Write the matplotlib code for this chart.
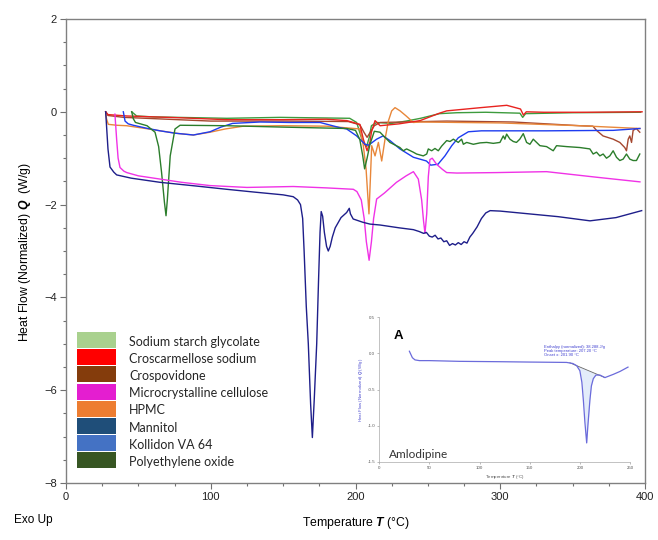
import matplotlib

matplotlib.use("Agg")
import matplotlib.pyplot as plt
import numpy as np
from matplotlib.patches import Rectangle
from matplotlib.ticker import MultipleLocator

plt.rcParams.update(
    {
        "font.family": ["Liberation Sans", "DejaVu Sans"],
        "mathtext.fontset": "custom",
        "mathtext.rm": "Liberation Sans",
        "mathtext.bfit": "Liberation Sans:italic:bold",
        "axes.linewidth": 1.0,
    }
)

# ---- main DSC traces (temperature in degC, heat flow in W/g) ----
ssg_T = [45.4, 48.8, 60, 111, 148, 196, 200.8, 203, 205, 207.7, 209.5, 211, 214.6,
         225, 235, 245, 258, 270, 290, 313.6, 315.5, 317.5, 350, 397]
ssg_Q = [0.0, -0.09, -0.11, -0.14, -0.12, -0.14, -0.23, -0.45, -0.65, -0.75, -0.55,
         -0.3, -0.23, -0.25, -0.2, -0.14, -0.04, -0.02, -0.01, -0.03, -0.12, -0.04,
         -0.02, -0.01]

ccs_T = [27.4, 29, 42, 80, 111, 150, 180, 194, 203, 205.5, 208, 210, 211, 213.5,
         217, 230, 244.6, 258, 263, 286.6, 304.5, 314, 316, 318, 330, 360, 398]
ccs_Q = [0.0, -0.06, -0.09, -0.13, -0.17, -0.17, -0.16, -0.19, -0.27, -0.6, -0.84,
         -0.65, -0.44, -0.19, -0.3, -0.26, -0.19, -0.03, 0.02, 0.09, 0.14, 0.06,
         -0.07, 0.0, -0.01, -0.01, 0.0]

crp_T = [27.4, 29, 40, 100, 150, 195, 203, 206, 208, 210, 213, 217, 263, 309, 355,
         364, 366.5, 371, 378, 382.6, 386, 387.2, 388.4, 389.5, 390.7, 391.8, 394,
         396.4]
crp_Q = [0.0, -0.08, -0.12, -0.2, -0.2, -0.21, -0.28, -0.45, -0.55, -0.45, -0.3,
         -0.23, -0.2, -0.22, -0.3, -0.31, -0.4, -0.52, -0.59, -0.66, -0.77, -0.84,
         -0.59, -0.52, -0.66, -0.4, -0.36, -0.44]

mcc_T = [33.8, 35, 36, 37.3, 40, 42, 50, 65, 80, 99.5, 125, 157, 180, 198.5, 201,
         204, 206, 207.5, 209.4, 211, 212.5, 214.6, 220, 228.3, 235, 240, 243.4,
         245.7, 247, 248, 249.2, 250.3, 251.4, 253, 256, 260, 263, 270, 297.5, 332,
         366.5, 396.5]
mcc_Q = [-0.05, -0.6, -1.0, -1.2, -1.28, -1.31, -1.38, -1.45, -1.52, -1.59, -1.63,
         -1.61, -1.64, -1.67, -1.72, -1.9, -2.3, -2.8, -3.2, -2.8, -2.3, -1.88,
         -1.75, -1.52, -1.38, -1.29, -1.45, -1.9, -2.35, -2.62, -2.2, -1.4, -1.03,
         -1.0, -1.13, -1.24, -1.31, -1.32, -1.31, -1.29, -1.41, -1.51]

hpmc_T = [27.4, 28, 29.2, 35, 41.9, 55, 65, 78, 88, 99.5, 110, 122.5, 150, 180,
          203, 205.4, 207.3, 209.3, 211.2, 213.5, 215.8, 218.1, 220.4, 222.7, 225,
          227.3, 230.8, 235, 240, 244.6, 300, 355, 396.5]
hpmc_Q = [0.0, -0.15, -0.27, -0.29, -0.3, -0.36, -0.41, -0.47, -0.5, -0.44, -0.37,
          -0.31, -0.3, -0.31, -0.37, -0.73, -1.23, -2.2, -0.73, -0.95, -0.66, -1.06,
          -0.59, -0.2, 0.02, 0.09, 0.02, -0.09, -0.23, -0.22, -0.24, -0.3, -0.36]

man_T = [27.4, 28, 29, 30.4, 33, 35, 45, 65, 90, 111, 130, 150, 157, 160, 162,
         163.5, 164.5, 166, 167.4, 169, 170.2, 171.5, 173.2, 174.5, 175.5, 176.3,
         177.3, 178.5, 180, 181.2, 182.5, 184, 186, 190, 193.9, 195.7, 196.5, 198.4,
         205, 210, 217, 230, 240, 244, 247, 249, 251, 253, 255, 257, 259, 261, 263,
         265, 267, 269, 271, 273, 275, 277, 279, 281, 284, 287, 290, 293, 300, 320,
         340, 362, 380, 397.7]
man_Q = [0.0, -0.3, -0.8, -1.19, -1.3, -1.36, -1.43, -1.52, -1.6, -1.67, -1.73,
         -1.79, -1.83, -1.9, -2.0, -2.3, -3.0, -4.2, -5.0, -6.3, -7.02, -6.2, -5.0,
         -3.6, -2.6, -2.15, -2.25, -2.6, -2.9, -3.0, -2.9, -2.7, -2.5, -2.28, -2.17,
         -2.08, -2.2, -2.31, -2.38, -2.42, -2.44, -2.5, -2.54, -2.58, -2.62, -2.6,
         -2.68, -2.7, -2.66, -2.74, -2.72, -2.8, -2.78, -2.88, -2.84, -2.87, -2.82,
         -2.86, -2.8, -2.83, -2.7, -2.62, -2.48, -2.3, -2.18, -2.13, -2.14, -2.2,
         -2.26, -2.35, -2.28, -2.13]

kol_T = [39.6, 40.8, 43, 46.5, 55, 65, 75, 88, 99.5, 107, 115, 134, 155, 175.5,
         189, 193.9, 200.8, 206.6, 209, 214.6, 219, 223.8, 230.7, 240, 249, 252,
         257, 261.8, 266.5, 271, 278, 287, 332, 378, 396.5]
kol_Q = [0.0, -0.2, -0.26, -0.29, -0.35, -0.41, -0.46, -0.5, -0.43, -0.33, -0.25,
         -0.22, -0.23, -0.23, -0.34, -0.37, -0.52, -0.7, -0.72, -0.59, -0.52, -0.62,
         -0.8, -0.98, -1.06, -1.15, -1.13, -0.95, -0.73, -0.56, -0.43, -0.41, -0.41,
         -0.4, -0.36]

peo_T = [45.4, 46.5, 48, 56, 61.5, 64, 66, 68, 69.1, 70, 72, 75.3, 78.8, 111, 150,
         194, 200, 203, 205, 206.3, 208, 210, 213, 216.9, 223.8, 230.7, 233.0, 235.3,
         239.9, 242.2, 246.8, 249.2, 250.3, 252.6, 254.9, 257.2, 259.5, 263.0, 265.3,
         267.6, 271.0, 273.3, 274.5, 276.8, 281.4, 286.0, 290.6, 295.2, 299.8, 302.1,
         303.2, 304.4, 306.7, 309.0, 311.2, 313.5, 315.9, 318.2, 320.5, 322.8, 325.1,
         327.4, 332.0, 336.6, 338.9, 345.8, 355.0, 361.9, 364.2, 366.5, 368.8, 371.1,
         373.4, 375.7, 378.0, 380.3, 382.6, 384.9, 387.2, 389.5, 391.8, 394.1, 396.4]
peo_Q = [0.0, -0.15, -0.23, -0.3, -0.44, -0.75, -1.3, -1.95, -2.24, -1.9, -0.95,
         -0.37, -0.29, -0.3, -0.33, -0.36, -0.4, -0.6, -0.95, -1.23, -1.0, -0.7,
         -0.42, -0.44, -0.66, -0.77, -0.84, -0.80, -0.87, -0.91, -0.95, -0.91, -0.80,
         -0.84, -0.79, -0.84, -0.74, -0.62, -0.64, -0.59, -0.66, -0.59, -0.70, -0.66,
         -0.70, -0.67, -0.66, -0.68, -0.66, -0.52, -0.59, -0.48, -0.59, -0.64, -0.66,
         -0.59, -0.47, -0.66, -0.70, -0.59, -0.66, -0.73, -0.75, -0.84, -0.73, -0.75,
         -0.77, -0.80, -0.91, -0.87, -0.95, -0.91, -1.00, -0.95, -0.84, -0.98, -1.05,
         -1.02, -0.91, -1.02, -1.05, -1.05, -0.91]

# ---- inset: amlodipine ----
aml_T = [30, 31, 33, 35.6, 40, 50, 80, 120, 150, 186.8, 193, 196.8, 200, 202,
         203.5, 205, 206.8, 208, 210, 211.5, 213.4, 216, 220, 225, 233.4, 240, 248]
aml_Q = [0.03, 0.0, -0.06, -0.09, -0.1, -0.1, -0.11, -0.115, -0.12, -0.125, -0.14,
         -0.17, -0.24, -0.4, -0.65, -0.95, -1.24, -1.0, -0.65, -0.45, -0.35, -0.3,
         -0.3, -0.335, -0.29, -0.25, -0.19]
aml_base_T = [190, 225]
aml_base_Q = [-0.13, -0.335]

legend_labels = ["Sodium starch glycolate", "Croscarmellose sodium", "Crospovidone",
                 "Microcrystalline cellulose", "HPMC", "Mannitol", "Kollidon VA 64",
                 "Polyethylene oxide"]
legend_colors = ["#A9D18E", "#FF0000", "#843C0C", "#E41ED0", "#ED7D31", "#1F4E79",
                 "#4472C4", "#375623"]

fig = plt.figure(figsize=(6.58, 5.40), dpi=100)
ax = fig.add_axes([66 / 658, 1 - 483 / 540, 579 / 658, 464 / 540])

traces = [
    (ssg_T, ssg_Q, "#3d9b3d"),
    (crp_T, crp_Q, "#a5472f"),
    (hpmc_T, hpmc_Q, "#e8873a"),
    (ccs_T, ccs_Q, "#e8231f"),
    (kol_T, kol_Q, "#1e3cf0"),
    (peo_T, peo_Q, "#2b7d2b"),
    (mcc_T, mcc_Q, "#f032e6"),
    (man_T, man_Q, "#1e1e8a"),
]
for T, Q, c in traces:
    ax.plot(T, Q, color=c, lw=1.0)

ax.set_xlim(0, 400)
ax.set_ylim(-8, 2)
ax.xaxis.set_major_locator(MultipleLocator(100))
ax.xaxis.set_minor_locator(MultipleLocator(25))
ax.yaxis.set_major_locator(MultipleLocator(2))
ax.yaxis.set_minor_locator(MultipleLocator(0.5))
ax.tick_params(which="major", length=4.5, width=0.8, color="#707070",
               labelsize=8, pad=2, labelcolor="#222222")
ax.tick_params(which="minor", length=2.4, width=0.8, color="#707070")
for s in ax.spines.values():
    s.set_color("#808080")

ax.set_xlabel(r"Temperature $\mathbfit{T}$ (°C)", fontsize=8.8)
ax.set_ylabel(r"Heat Flow (Normalized) $\mathbfit{Q}$  (W/g)", fontsize=8.8)
ax.xaxis.set_label_coords(0.5, -0.07)
ax.yaxis.set_label_coords(-0.057, 0.498)
fig.text(33 / 658, 1 - 520 / 540, "Exo Up", fontsize=8.5, ha="center", va="center")

# legend: colour swatches with labels, drawn in axes fractions
row_step = 17.2 / 464
box_h = 16 / 464
for i, (lab, col) in enumerate(zip(legend_labels, legend_colors)):
    top = (483 - 332) / 464 - i * row_step
    ax.add_patch(Rectangle((0.019, top - box_h), 0.0675, box_h, facecolor=col,
                           edgecolor="none", transform=ax.transAxes, zorder=5))
    ax.text(0.1093, top - box_h / 2 - 1.5 / 464, lab, transform=ax.transAxes,
            family="Lato", fontsize=9, color="#262626", ha="left", va="center")

# ---- inset ----
ins = fig.add_axes([379.3 / 658, 1 - 461.7 / 540, 250.7 / 658, 144.4 / 540])
aml_T_arr = np.array(aml_T)
aml_Q_arr = np.array(aml_Q)
base = np.interp(aml_T_arr, aml_base_T, aml_base_Q)
mask = (aml_T_arr >= 196) & (aml_T_arr <= 225)
ins.fill_between(aml_T_arr, aml_Q_arr, base, where=mask & (aml_Q_arr < base),
                 color="#e3ecfa", lw=0, interpolate=True)
ins.plot(aml_base_T, aml_base_Q, color="#666666", lw=0.6)
ins.plot(aml_T, aml_Q, color="#6b6bdb", lw=0.9)
ins.set_xlim(0, 250)
ins.set_ylim(-1.5, 0.5)
ins.set_xticks([0, 50, 100, 150, 200, 250])
ins.set_yticks([0.5, 0.0, -0.5, -1.0, -1.5])
ins.set_yticklabels(["0.5", "0.0", "-0.5", "-1.0", "-1.5"])
ins.tick_params(labelsize=3.2, length=1.5, width=0.4, pad=1.5, color="#888888",
                labelcolor="#555555")
ins.spines["top"].set_visible(False)
ins.spines["right"].set_visible(False)
for side in ("left", "bottom"):
    ins.spines[side].set_color("#aaaaaa")
    ins.spines[side].set_linewidth(0.5)
ins.set_xlabel(r"Temperature $\mathbfit{T}$ (°C)", fontsize=3.2, labelpad=2,
               color="#555555")
ins.set_ylabel(r"Heat Flow (Normalized) $\mathbfit{Q}$ (W/g)", fontsize=3.2,
               labelpad=2, color="#5050d0")
ins.patch.set_alpha(0)
ins.text(0.075, 0.87, "A", transform=ins.transAxes, fontsize=9.5, fontweight="bold",
         ha="center", va="center")
ins.text(0.04, 0.053, "Amlodipine", transform=ins.transAxes, fontsize=8.5,
         family="Lato", color="#333333", ha="left", va="center")
ins.text(0.657, 0.81, "Enthalpy (normalized): 38.288 J/g\nPeak temperature: 207.20 °C\n"
         "Onset x: 201.90 °C", transform=ins.transAxes, fontsize=3, color="#4040d0",
         ha="left", va="top", linespacing=1.1)

fig.savefig("out.png", dpi=100)
